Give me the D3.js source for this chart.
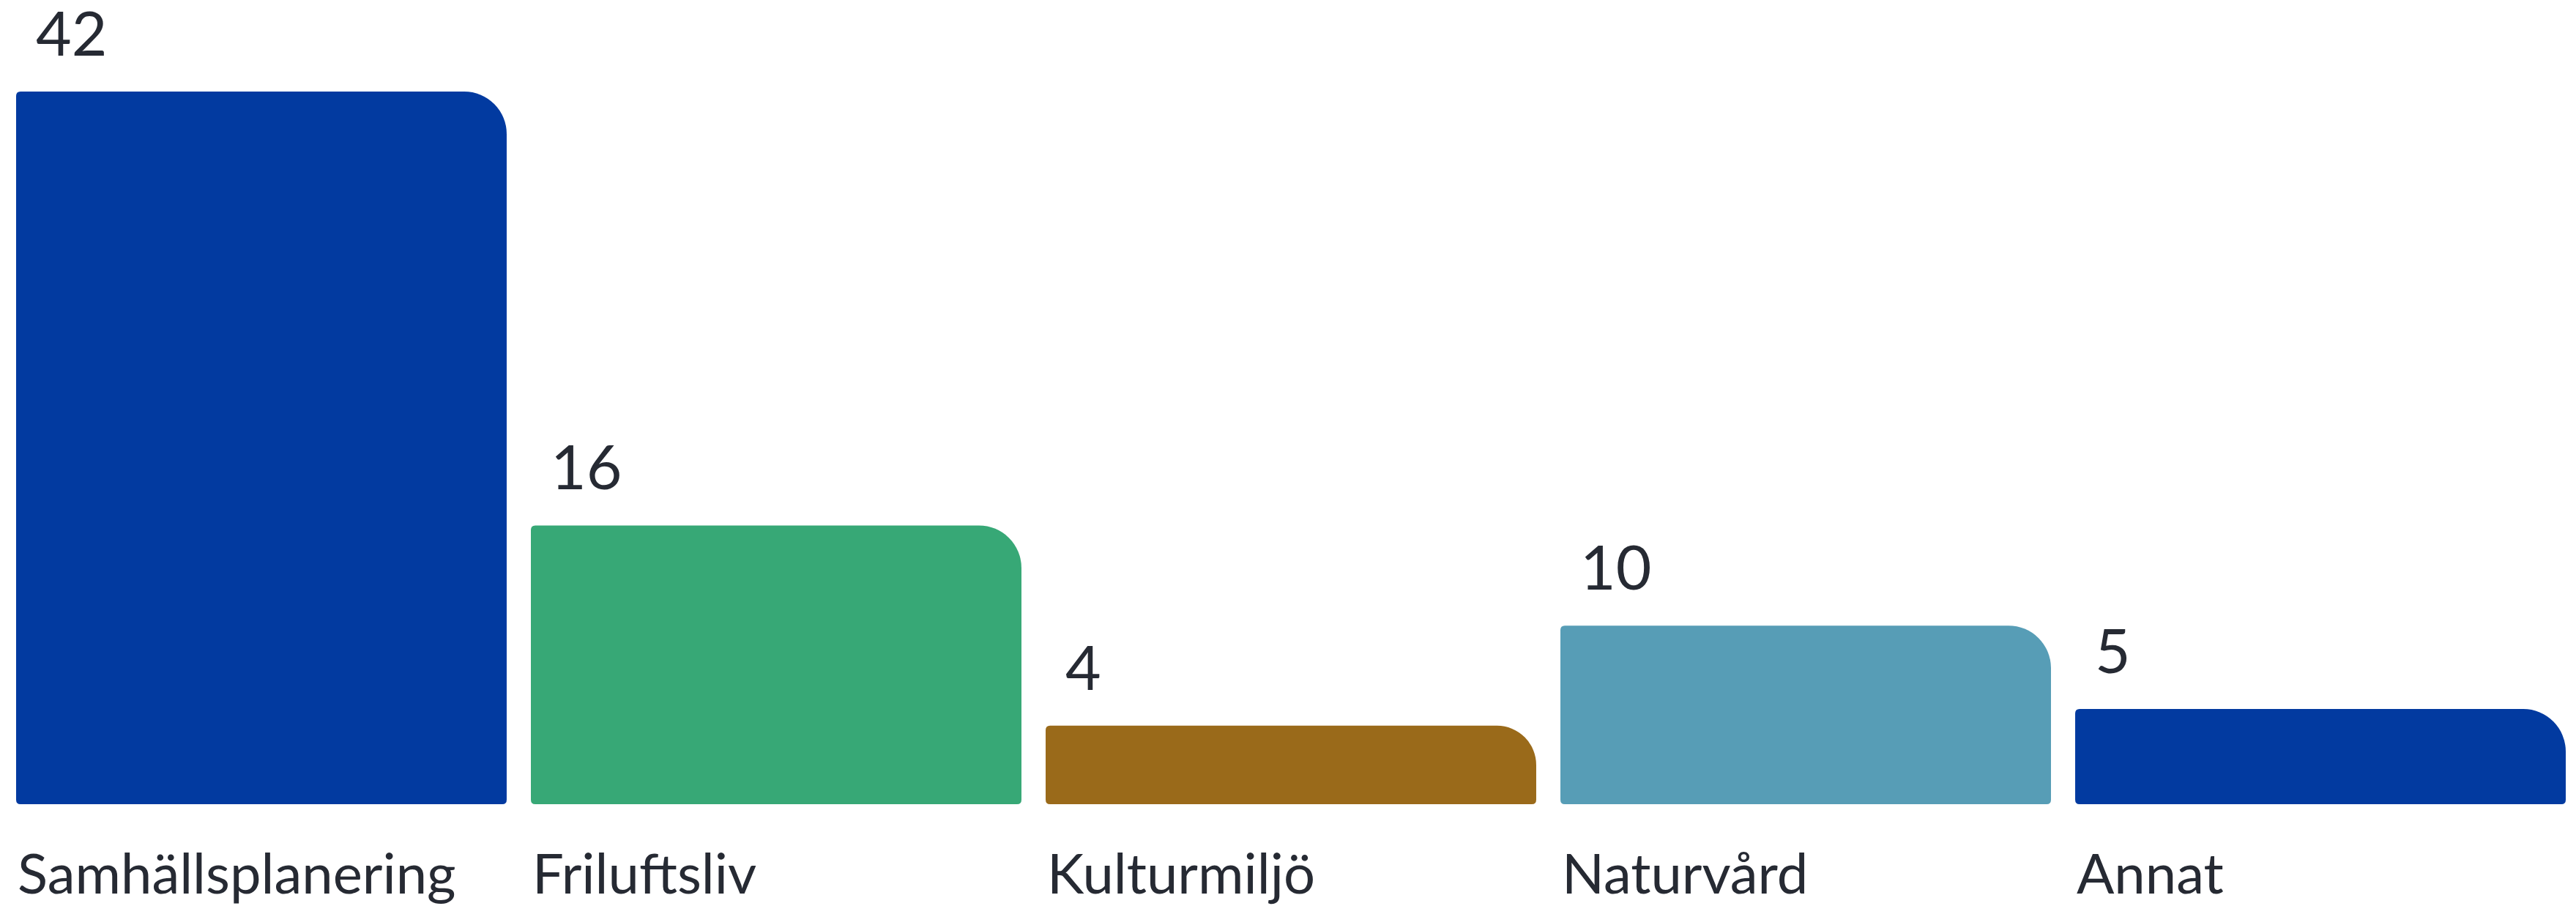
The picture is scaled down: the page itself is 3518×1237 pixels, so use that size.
<!DOCTYPE html>
<html>
<head>
<meta charset="utf-8">
<script src="https://cdn.jsdelivr.net/npm/d3@7"></script>
<style>
  body { margin: 0; background: #fff; }
  svg { display: block; }
  .value-label { font-family: Lato, sans-serif; font-size: 84px; fill: #262a33; }
  .cat-label { font-family: Lato, sans-serif; font-size: 76px; fill: #262a33; }
</style>
</head>
<body>
<svg id="chart"></svg>
<script>
const categories = ["Samhällsplanering", "Friluftsliv", "Kulturmiljö", "Naturvård", "Annat"];
const values = [42, 16, 4, 10, 5];
const colors = ["#023aa0", "#37a876", "#9a6a1a", "#579db6", "#023aa0"];

const width = 3518, height = 1237;
const margin = {top: 125, right: 14, bottom: 155, left: 22};
const baseline = 1098; // bars run a little below the zero line

const svg = d3.select("#chart")
    .attr("width", width)
    .attr("height", height);

const x = d3.scaleBand()
    .domain(categories)
    .range([margin.left, width - margin.right])
    .paddingInner(0.047)
    .paddingOuter(0);

const y = d3.scaleLinear()
    .domain([0, d3.max(values)])
    .range([1082, margin.top]);

// rectangle with a big top-right corner and small other corners
function barPath(x0, y0, w, h) {
    const R = Math.min(58, h / 2, w / 2), r = 6;
    return `M${x0},${y0 + r}` +
        `Q${x0},${y0} ${x0 + r},${y0}` +
        `L${x0 + w - R},${y0}` +
        `A${R},${R} 0 0 1 ${x0 + w},${y0 + R}` +
        `L${x0 + w},${y0 + h - r}` +
        `Q${x0 + w},${y0 + h} ${x0 + w - r},${y0 + h}` +
        `L${x0 + r},${y0 + h}` +
        `Q${x0},${y0 + h} ${x0},${y0 + h - r}Z`;
}

const data = categories.map((c, i) => ({cat: c, value: values[i], color: colors[i]}));

const bars = svg.selectAll(".bar")
    .data(data)
    .enter().append("g")
    .attr("class", "bar");

bars.append("path")
    .attr("d", d => barPath(x(d.cat), y(d.value), x.bandwidth(), baseline - y(d.value)))
    .attr("fill", d => d.color);

bars.append("text")
    .attr("class", "value-label")
    .attr("x", d => x(d.cat) + 27)
    .attr("y", d => y(d.value) - 49)
    .text(d => d.value);

bars.append("text")
    .attr("class", "cat-label")
    .attr("x", d => x(d.cat) + 2)
    .attr("y", 1220)
    .text(d => d.cat);
</script>
</body>
</html>
